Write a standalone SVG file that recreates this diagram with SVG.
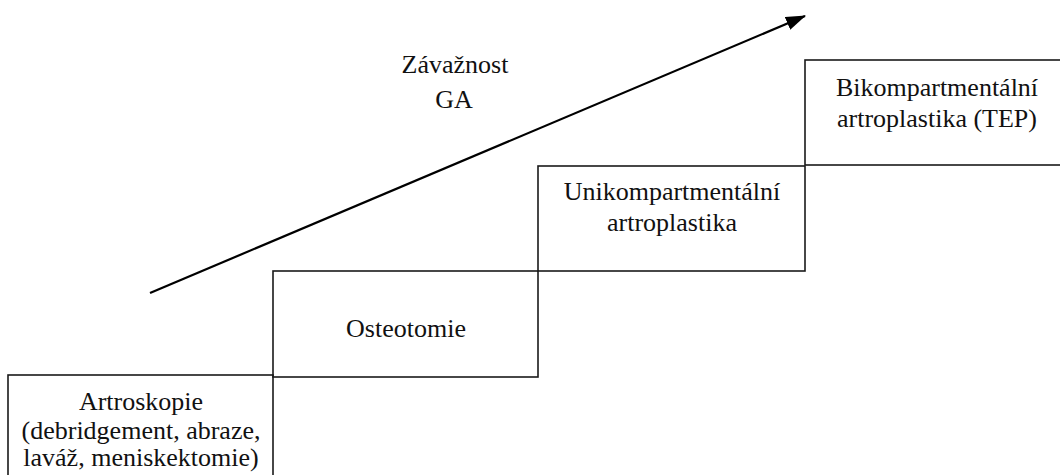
<svg xmlns="http://www.w3.org/2000/svg" width="1060" height="475" viewBox="0 0 1060 475">
<style>
.box{fill:none;stroke:#1a1a1a;stroke-width:1.6}
.t{font-family:"Liberation Serif","Times New Roman",serif;font-size:26px;fill:#111;text-anchor:middle}
.arr{stroke:#000;stroke-width:2.2;fill:none}
</style>
<defs>
<marker id="ah" markerWidth="20" markerHeight="14" refX="19" refY="7" orient="auto" markerUnits="userSpaceOnUse" viewBox="0 0 20 14">
<path d="M0,0 L20,7 L0,14 Z" fill="#000"/>
</marker>
</defs>
<rect width="1060" height="475" fill="#fff"/>
<g id="connectors">
<line class="arr" x1="150" y1="293" x2="805" y2="16" marker-end="url(#ah)"/>
</g>
<g id="label-severity">
<text class="t" x="455" y="73">Závažnost</text>
<text class="t" x="454" y="108">GA</text>
</g>
<g id="node-artroskopie">
<rect class="box" x="8" y="375" width="265" height="110"/>
<text class="t" x="141" y="410">Artroskopie</text>
<text class="t" x="141" y="439">(debridgement, abraze,</text>
<text class="t" x="141" y="466">laváž, meniskektomie)</text>
</g>
<g id="node-osteotomie">
<rect class="box" x="273" y="271" width="265" height="106"/>
<text class="t" x="406" y="337">Osteotomie</text>
</g>
<g id="node-uni">
<rect class="box" x="538" y="166" width="267" height="105"/>
<text class="t" x="672" y="200">Unikompartmentální</text>
<text class="t" x="672" y="231">artroplastika</text>
</g>
<g id="node-bi">
<rect class="box" x="805" y="60" width="270" height="105"/>
<text class="t" x="937" y="96">Bikompartmentální</text>
<text class="t" x="937" y="127">artroplastika (TEP)</text>
</g>
</svg>
